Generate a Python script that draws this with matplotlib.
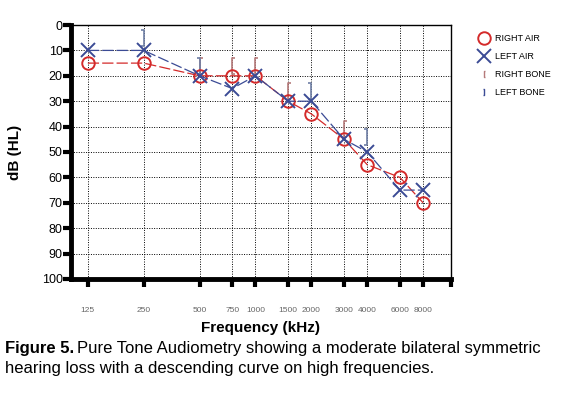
import matplotlib
matplotlib.use("Agg")
import matplotlib.pyplot as plt
from matplotlib.path import Path
from matplotlib.lines import Line2D

plt.rcParams["font.family"] = ["Liberation Sans", "DejaVu Sans"]

# -----------------------------------
# DATA
# -----------------------------------

freqs = [125, 250, 500, 750, 1000, 1500, 2000, 3000, 4000, 6000, 8000]
freq_labels = ["125", "250", "500", "750", "1000", "1500", "2000",
               "3000", "4000", "6000", "8000"]

right_air = [15, 15, 20, 20, 20, 30, 35, 45, 55, 60, 70]
left_air = [10, 10, 20, 25, 20, 30, 30, 45, 50, 65, 65]

right_bone_freqs = [500, 750, 1000, 1500, 3000]
right_bone = [16, 16, 16, 26, 41]

left_bone_freqs = [250, 500, 2000, 4000]
left_bone = [5, 16, 26, 44]

db_ticks = list(range(0, 101, 10))

# -----------------------------------
# MARKERS
# -----------------------------------

open_br = Path([(0.35, -1), (0, -1), (0, 1), (0.35, 1)],
               [Path.MOVETO, Path.LINETO, Path.LINETO, Path.LINETO])
close_br = Path([(-0.35, -1), (0, -1), (0, 1), (-0.35, 1)],
                [Path.MOVETO, Path.LINETO, Path.LINETO, Path.LINETO])

red = "#d42a2a"
blue = "#3b4b95"
rb_col = "#b57a7a"
lb_col = "#6f7fa5"

# -----------------------------------
# FIGURE
# -----------------------------------

fig = plt.figure(figsize=(5.7, 3.99), dpi=100)
ax = fig.add_axes([0.1246, 0.3008, 0.6665, 0.6365])

ax.plot(freqs, right_air, color=red, lw=0.9, dashes=(9, 2.5),
        marker="o", ms=9, mfc="none", mec=red, mew=1.4, zorder=3)
ax.plot(freqs, left_air, color=blue, lw=0.9, dashes=(9, 2.5),
        marker="x", ms=10, mec=blue, mew=1.4, zorder=4)
ax.plot(right_bone_freqs, right_bone, ls="none", marker=open_br,
        ms=11, mfc="none", mec=rb_col, mew=1.2, zorder=2)
ax.plot(left_bone_freqs, left_bone, ls="none", marker=close_br,
        ms=11, mfc="none", mec=lb_col, mew=1.2, zorder=2)

ax.set_xscale("log", base=2)
ax.set_xlim(101.5, 11300)
ax.set_ylim(100, 0)

ax.set_xticks(freqs)
ax.set_xticklabels(freq_labels)
ax.minorticks_off()
ax.set_xticks([11250], minor=True)
ax.set_xticklabels([""], minor=True)
ax.set_yticks(db_ticks)

ax.grid(True, which="major", color="black", ls=(0, (1, 1.5)), lw=0.7)

ax.tick_params(axis="y", direction="out", length=6, width=3,
               labelsize=9, pad=0)
ax.tick_params(axis="x", which="both", direction="out", length=6, width=3,
               labelsize=6, labelcolor="#666666", pad=14)

ax.spines["left"].set_linewidth(3.5)
ax.spines["bottom"].set_linewidth(3.5)
ax.spines["top"].set_linewidth(1)
ax.spines["right"].set_linewidth(1)

ax.set_xlabel("Frequency (kHz)", fontsize=11, fontweight="bold", labelpad=5)
ax.set_ylabel("dB (HL)", fontsize=11, fontweight="bold", labelpad=14)

# -----------------------------------
# LEGEND
# -----------------------------------

handles = [
    Line2D([], [], ls="none", marker="o", ms=9, mfc="none", mec=red, mew=1.4),
    Line2D([], [], ls="none", marker="x", ms=10, mec=blue, mew=1.4),
    Line2D([], [], ls="none", marker=open_br, ms=5, mfc="none",
           mec=rb_col, mew=1),
    Line2D([], [], ls="none", marker=close_br, ms=5, mfc="none",
           mec=blue, mew=1),
]
labels = ["RIGHT AIR", "LEFT AIR", "RIGHT BONE", "LEFT BONE"]
fig.legend(handles, labels, loc="upper left", bbox_to_anchor=(0.825, 0.935),
           frameon=False, fontsize=6.5, handlelength=1.2, handletextpad=0.6,
           labelspacing=1.0)

# -----------------------------------
# CAPTION
# -----------------------------------

t1 = fig.text(0.008, 0.115, "Figure 5.", fontsize=12, fontweight="bold")
fig.canvas.draw()
bb = t1.get_window_extent(fig.canvas.get_renderer())
x_next = (bb.x1 + 3) / fig.bbox.width
fig.text(x_next, 0.115,
         "Pure Tone Audiometry showing a moderate bilateral symmetric",
         fontsize=12)
fig.text(0.008, 0.065,
         "hearing loss with a descending curve on high frequencies.",
         fontsize=12)

fig.savefig("out.png", dpi=100)
